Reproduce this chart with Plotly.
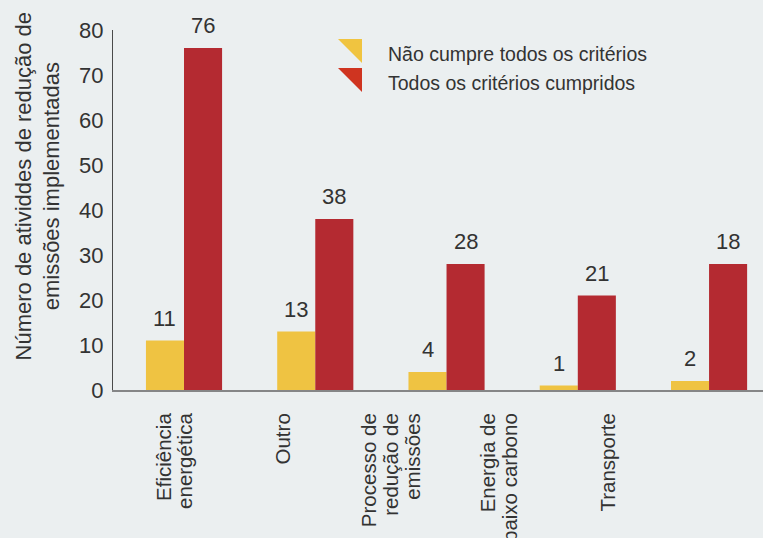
import plotly.graph_objects as go

categories = [["Eficiência", "energética"], ["Outro"],
              ["Processo de", "redução de", "emissões"],
              ["Energia de", "baixo carbono"], ["Transporte"]]
series_names = ["Não cumpre todos os critérios", "Todos os critérios cumpridos"]
nao_cumpre = [11, 13, 4, 1, 2]
cumpridos_bar = [76, 38, 28, 21, 28]
nao_cumpre_labels = ["11", "13", "4", "1", "2"]
cumpridos_labels = ["76", "38", "28", "21", "18"]
y_ticks = [0, 10, 20, 30, 40, 50, 60, 70, 80]

FONT = "Liberation Sans, Arial, sans-serif"
TXT = "#333333"
BG = "#EBEFF0"
YEL = "#EFC342"
RED = "#B42A31"
LEG_COLORS = ["#F0C440", "#CF3420"]

W = 0.29
x_idx = list(range(len(categories)))

fig = go.Figure()
fig.add_trace(go.Bar(x=x_idx, y=nao_cumpre, width=W, offset=-W,
                     marker=dict(color=YEL, line=dict(width=0)),
                     name=series_names[0], showlegend=False, hoverinfo="y"))
fig.add_trace(go.Bar(x=x_idx, y=cumpridos_bar, width=W, offset=0,
                     marker=dict(color=RED, line=dict(width=0)),
                     name=series_names[1], showlegend=False, hoverinfo="y"))

annotations = []
for i in x_idx:
    annotations.append(dict(x=i - W / 2, y=nao_cumpre[i], text=nao_cumpre_labels[i],
                            xref="x", yref="y", showarrow=False, yanchor="bottom",
                            yshift=8, font=dict(size=22, color=TXT, family=FONT)))
    annotations.append(dict(x=i + W / 2, y=cumpridos_bar[i], text=cumpridos_labels[i],
                            xref="x", yref="y", showarrow=False, yanchor="bottom",
                            yshift=8, font=dict(size=22, color=TXT, family=FONT)))

# category labels: one tick per text line for tight line spacing
LABEL_START, LABEL_STEP, LINE_STEP = -0.07, 0.825, 0.166
tickvals, ticktext = [], []
for i, lines in enumerate(categories):
    c = LABEL_START + LABEL_STEP * i
    n = len(lines)
    for j, ln in enumerate(lines):
        tickvals.append(c + (j - (n - 1) / 2) * LINE_STEP)
        ticktext.append(ln)

# y axis title
annotations.append(dict(xref="paper", yref="paper", x=-0.116, y=0.567,
                        text="Número de atividdes de redução de<br>emissões implementadas",
                        textangle=-90, showarrow=False, xanchor="center", yanchor="middle",
                        font=dict(size=22, color=TXT, family=FONT)))

# legend
L, T = 113, 30
PW, PH = 650, 360
def px(x):
    return (x - L) / PW
def py(y):
    return (T + PH - y) / PH

shapes = []
leg_rows = [39, 68]
for k, name in enumerate(series_names):
    top = leg_rows[k]
    shapes.append(dict(type="path", xref="paper", yref="paper",
                       path=f"M {px(338)} {py(top)} L {px(362)} {py(top)} L {px(362)} {py(top + 24)} Z",
                       fillcolor=LEG_COLORS[k], line=dict(width=0)))
    annotations.append(dict(xref="paper", yref="paper", x=px(386), y=py(top + 15),
                            text=name, showarrow=False, xanchor="left", yanchor="middle",
                            font=dict(size=19.5, color=TXT, family=FONT)))

fig.update_layout(
    width=763, height=538,
    margin=dict(l=L, r=0, t=T, b=538 - T - PH, autoexpand=False),
    paper_bgcolor=BG, plot_bgcolor=BG,
    font=dict(family=FONT, color=TXT),
    annotations=annotations, shapes=shapes,
    xaxis=dict(range=[-0.541, 4.411], tickvals=tickvals, ticktext=ticktext,
               tickangle=-90, ticks="outside", ticklen=13, tickcolor="rgba(0,0,0,0)",
               tickfont=dict(size=20.5, color=TXT, family=FONT),
               showgrid=False, zeroline=False, showline=True,
               linecolor="rgba(90,90,90,0.7)", linewidth=2, fixedrange=True),
    yaxis=dict(range=[0, 80], tickvals=y_ticks, ticks="outside", ticklen=4,
               tickcolor="rgba(0,0,0,0)", tickfont=dict(size=22, color=TXT, family=FONT),
               showgrid=False, zeroline=False, showline=True,
               linecolor="#4a4a4a", linewidth=1, fixedrange=True),
)

fig.write_html("out.html", config={"displayModeBar": False},
               post_script="document.body.style.margin='0px';document.body.style.background='" + BG + "';")
